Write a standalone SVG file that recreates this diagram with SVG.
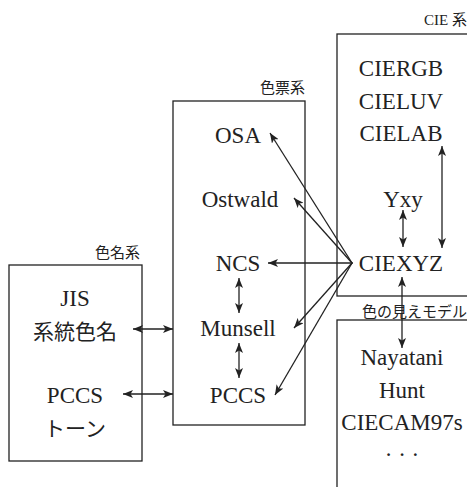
<svg xmlns="http://www.w3.org/2000/svg" width="467" height="487" viewBox="0 0 467 487">
<defs>
<marker id="ah" viewBox="0 0 10 8" refX="10" refY="4" markerWidth="10" markerHeight="8" markerUnits="userSpaceOnUse" orient="auto-start-reverse">
<path d="M0,0 L10,4 L0,8 L2.5,4 Z" fill="#222"/>
</marker>
</defs>
<style>
.box{fill:none;stroke:#222;stroke-width:1.3}
.t{font-size:23px;fill:#222;text-anchor:middle}
.j{font-size:21px;fill:#222;text-anchor:middle}
.lab{font-size:15px;fill:#222;text-anchor:end}
.a{fill:none;stroke:#222;stroke-width:1.3}
.one{marker-end:url(#ah)}
.two{marker-start:url(#ah);marker-end:url(#ah)}
</style>
<rect width="467" height="487" fill="#fff"/>
<g id="cie" font-family="'Liberation Serif', 'Noto Sans CJK JP', serif">
<rect class="box" x="337" y="34" width="140" height="262"/>
<text class="lab" x="467" y="25">CIE 系</text>
<text class="t" x="401" y="76">CIERGB</text>
<text class="t" x="401" y="109">CIELUV</text>
<text class="t" x="401" y="141">CIELAB</text>
<text class="t" x="403" y="207">Yxy</text>
<text class="t" x="401" y="271">CIEXYZ</text>
</g>
<g id="hyoushoku" font-family="'Liberation Serif', 'Noto Sans CJK JP', serif">
<rect class="box" x="173" y="101" width="132" height="324"/>
<text class="lab" x="305" y="93">色票系</text>
<text class="t" x="238" y="143">OSA</text>
<text class="t" x="240" y="207">Ostwald</text>
<text class="t" x="238" y="271">NCS</text>
<text class="t" x="238" y="336">Munsell</text>
<text class="t" x="238" y="403">PCCS</text>
</g>
<g id="shokumei" font-family="'Liberation Serif', 'Noto Sans CJK JP', serif">
<rect class="box" x="9" y="265" width="133" height="196"/>
<text class="lab" x="140" y="258">色名系</text>
<text class="t" x="75" y="306">JIS</text>
<text class="j" x="75" y="339">系統色名</text>
<text class="t" x="75" y="403">PCCS</text>
<text class="j" x="75" y="436">トーン</text>
</g>
<g id="mieru" font-family="'Liberation Serif', 'Noto Sans CJK JP', serif">
<rect class="box" x="337" y="320" width="140" height="180"/>
<text class="lab" x="467" y="317">色の見えモデル</text>
<text class="t" x="402" y="365">Nayatani</text>
<text class="t" x="402" y="398">Hunt</text>
<text class="t" x="402" y="430">CIECAM97s</text>
<text class="t" x="402" y="462">· · ·</text>
</g>
<g id="connectors">
<line class="a two" x1="403" y1="210" x2="403" y2="247"/>
<line class="a two" x1="442" y1="146" x2="442" y2="248"/>
<line class="a two" x1="402" y1="277" x2="402" y2="348"/>
<line class="a one" x1="353" y1="263" x2="268" y2="263"/>
<line class="a one" x1="352" y1="263" x2="270" y2="133"/>
<line class="a one" x1="352" y1="263" x2="294" y2="198"/>
<line class="a one" x1="352" y1="263" x2="294" y2="328"/>
<line class="a one" x1="352" y1="263" x2="275" y2="395"/>
<line class="a two" x1="239" y1="278" x2="239" y2="313"/>
<line class="a two" x1="239" y1="343" x2="239" y2="378"/>
<line class="a two" x1="133" y1="329" x2="173" y2="329"/>
<line class="a two" x1="123" y1="394" x2="173" y2="394"/>
</g>
</svg>
